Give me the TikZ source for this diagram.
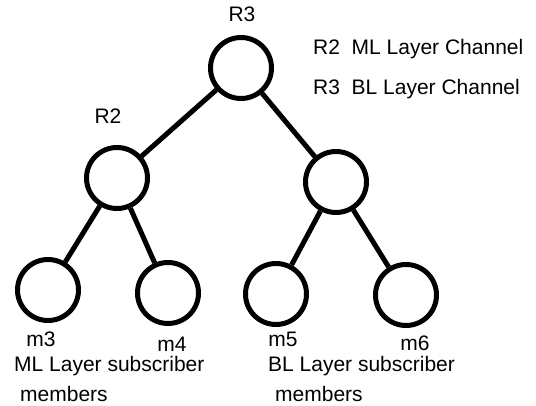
\documentclass[tikz,border=0pt]{standalone}
\usepackage{fontspec}
\setmainfont{Liberation Sans}
\usepackage{tikz}
\usetikzlibrary{positioning}
\tikzstyle{router} = [draw, circle, line width=5pt, minimum size=61pt, inner sep=0pt]
\tikzstyle{link} = [line width=5pt]
\tikzstyle{lbl} = [inner sep=0pt, font=\fontsize{21}{25}\selectfont]

\begin{document}
\begin{tikzpicture}[x=1pt, y=-1pt]
\useasboundingbox (0,0) rectangle (536,406);
% Channel routers
\node[router] (r3) at (241,68) {};
\node[router] (r2) at (117,178) {};
\node[router] (rb) at (336,182) {};

\node[lbl] (r3lbl) at (242,14) {R3};
\node[lbl] (r2lbl) at (108,116) {R2};

% Legend
\node[lbl, anchor=west] (leg1) at (313,49) {R2\ \ ML Layer Channel};
\node[lbl, anchor=west] (leg2) at (313,89) {R3\ \ BL Layer Channel};

% Subscriber members
\node[router] (m3) at (48,290) {};
\node[router] (m4) at (168,293) {};
\node[router] (m5) at (276,294) {};
\node[router] (m6) at (406,295) {};

\node[lbl] (m3lbl) at (41,339) {m3};
\node[lbl] (m4lbl) at (172,344) {m4};
\node[lbl] (m5lbl) at (283,339) {m5};
\node[lbl] (m6lbl) at (415,343) {m6};

\node[lbl, anchor=west] (ml1) at (14,366) {ML Layer subscriber};
\node[lbl, anchor=west] (ml2) at (20,394) {members};
\node[lbl, anchor=west] (bl1) at (268,366) {BL Layer subscriber};
\node[lbl, anchor=west] (bl2) at (275,394) {members};

% Links
\draw[link] (r3) -- (r2);
\draw[link] (r3) -- (rb);
\draw[link] (r2) -- (m3);
\draw[link] (r2) -- (m4);
\draw[link] (rb) -- (m5);
\draw[link] (rb) -- (m6);
\end{tikzpicture}
\end{document}
